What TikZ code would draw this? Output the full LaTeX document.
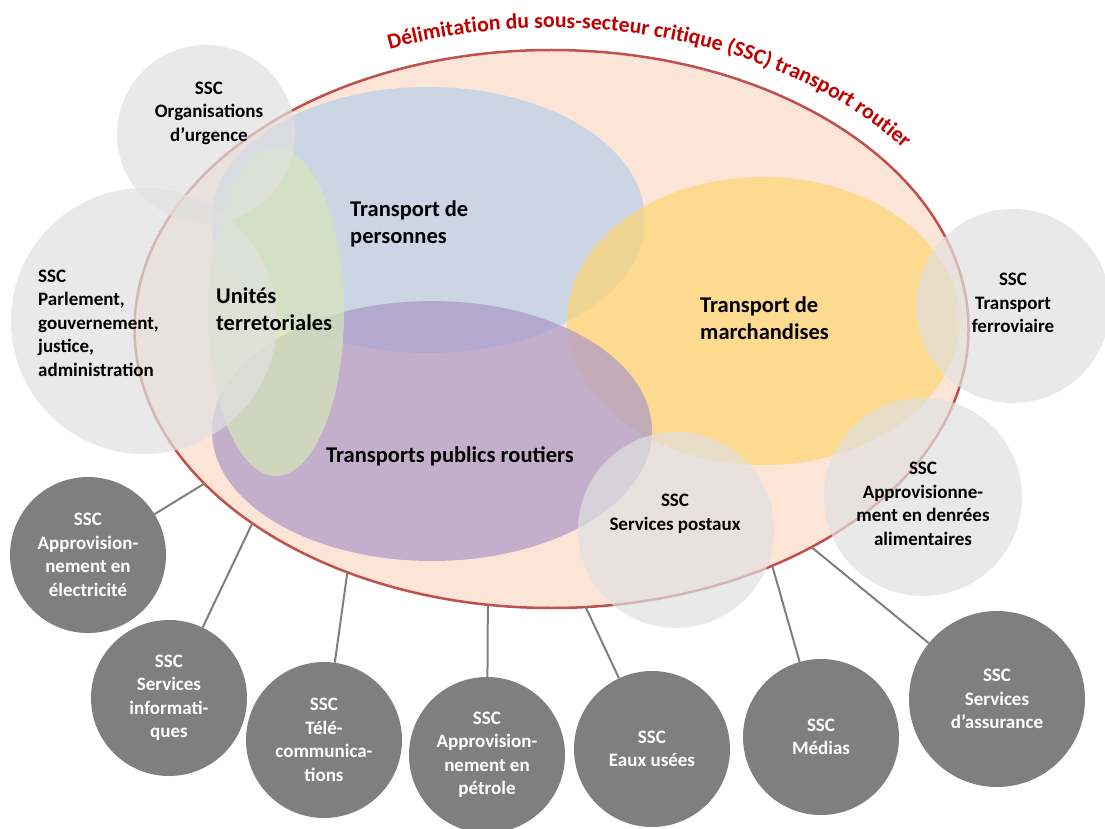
\documentclass[tikz,border=0pt]{standalone}
\usepackage{fontspec}
\setmainfont{Carlito}
\usetikzlibrary{shapes.geometric,decorations.text,calc}

\definecolor{peach}{RGB}{252,228,214}
\definecolor{borderred}{RGB}{192,80,77}
\definecolor{titlered}{RGB}{192,0,0}
\definecolor{perscol}{RGB}{185,207,233}
\definecolor{marccol}{RGB}{253,214,115}
\definecolor{publcol}{RGB}{171,152,200}
\definecolor{unitcol}{RGB}{214,230,185}
\definecolor{lightssc}{RGB}{224,224,224}
\definecolor{darkssc}{RGB}{127,127,127}

\newcommand{\smalltext}{\bfseries\fontsize{19}{23.5}\selectfont}
\newcommand{\bigtext}{\bfseries\fontsize{22.5}{27.5}\selectfont}
\newcommand{\titlefont}{\bfseries\fontsize{21.8}{26}\selectfont}

\begin{document}
\begin{tikzpicture}[x=1pt, y=1pt,
  sector/.style={ellipse, inner sep=0pt, outer sep=0pt, fill opacity=0.7},
  lightcirc/.style={circle, inner sep=0pt, fill=lightssc, fill opacity=0.7, minimum size=#1},
  darkcirc/.style={circle, inner sep=0pt, fill=darkssc, text=white, font=\smalltext, align=center, minimum size=156pt},
  ssctext/.style={font=\smalltext, inner sep=0pt, align=center},
  sectortext/.style={font=\bigtext, inner sep=0pt, align=left, anchor=west},
  link/.style={draw=darkssc, line width=2pt}]
  \useasboundingbox (0,0) rectangle (1105,-829);
  \clip (0,0) rectangle (1105,-829);

  % sous-secteur transport routier
  \node[ellipse, fill=peach, draw=borderred, line width=2.5pt, inner sep=0pt, outer sep=0pt,
        minimum width=834pt, minimum height=558pt] (big) at (551.5,-329) {};
  \coordinate (titlestart) at ($(big.center)+(114:439 and 301)$);
  \path[decorate, decoration={text along path, text align=center,
        text={|\titlefont\color{titlered}|Délimitation du sous-secteur critique (SSC) transport routier}}]
        (titlestart) arc[start angle=114, end angle=34, x radius=439, y radius=301];

  \node[sector, fill=perscol, minimum width=434pt, minimum height=266pt] (pers) at (428,-220) {};
  \node[sector, fill=marccol, minimum width=392pt, minimum height=288pt] (marc) at (763,-321) {};
  \node[sector, fill=publcol, minimum width=440pt, minimum height=260pt] (publ) at (432,-431) {};
  \node[sector, fill=unitcol, minimum width=136pt, minimum height=328pt] (unit) at (276,-312) {};

  % SSC voisins
  \node[lightcirc=178pt] (urg) at (206,-134) {};
  \node[lightcirc=266pt] (parl) at (144,-321) {};
  \node[lightcirc=194pt] (ferro) at (1013,-306) {};
  \node[lightcirc=198pt] (denr) at (923,-497) {};
  \node[lightcirc=196pt] (post) at (676,-530) {};

  \node[sectortext] (perstext) at (350,-224) {Transport de\\personnes};
  \node[sectortext] (unittext) at (216,-309) {Unités\\terretoriales};
  \node[sectortext] (marctext) at (700,-318) {Transport de\\marchandises};
  \node[font=\bigtext, inner sep=0pt] (publtext) at (450,-456) {Transports publics routiers};

  \node[ssctext] (urgtext) at (209,-113) {SSC\\Organisations\\d’urgence};
  \node[ssctext, align=left, anchor=west] (parltext) at (38,-323) {SSC\\Parlement,\\gouvernement,\\justice,\\administration};
  \node[ssctext] (ferrotext) at (1013,-303) {SSC\\Transport\\ferroviaire};
  \node[ssctext] (denrtext) at (923,-504) {SSC\\Approvisionne-\\ment en denrées\\alimentaires};
  \node[ssctext] (posttext) at (675,-514) {SSC\\Services postaux};

  % SSC relies
  \node[darkcirc] (elec) at (88,-555) {SSC\\Approvision-\\nement en\\électricité};
  \node[darkcirc] (info) at (169,-698) {SSC\\Services\\informati-\\ques};
  \node[darkcirc] (tele) at (324,-740) {SSC\\Télé-\\communica-\\tions};
  \node[darkcirc] (petr) at (487,-755) {SSC\\Approvision-\\nement en\\pétrole};
  \node[darkcirc] (eaux) at (652,-749) {SSC\\Eaux usées};
  \node[darkcirc] (medi) at (821,-737) {SSC\\Médias};
  \node[darkcirc, minimum size=176pt] (assu) at (997,-699) {SSC\\Services\\d’assurance};

  \draw[link] (elec) -- (big.204);
  \draw[link] (info) -- (big.213);
  \draw[link] (tele) -- (big.230);
  \draw[link] (petr) -- (big.257);
  \draw[link] (eaux) -- (big.277);
  \draw[link] (medi) -- (big.313);
  \draw[link] (assu) -- (big.320);
\end{tikzpicture}
\end{document}
